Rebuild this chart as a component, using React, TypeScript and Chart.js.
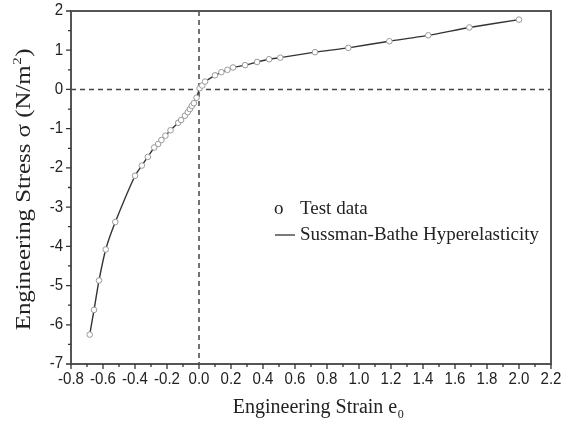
import React, { useEffect, useRef } from "react";
import { Chart, registerables } from "chart.js";

Chart.register(...registerables);

const STRAIN = [
  -0.683, -0.656, -0.625, -0.583, -0.523, -0.4, -0.357, -0.32, -0.28, -0.255,
  -0.235, -0.21, -0.178, -0.13, -0.112, -0.088, -0.07, -0.057, -0.045, -0.032,
  -0.015, 0.004, 0.02, 0.038, 0.1, 0.14, 0.178, 0.213, 0.288, 0.363, 0.438,
  0.508, 0.725, 0.933, 1.19, 1.433, 1.69, 2.0,
];
const STRESS = [
  -6.25, -5.62, -4.87, -4.08, -3.38, -2.2, -1.94, -1.72, -1.48, -1.39,
  -1.29, -1.18, -1.04, -0.85, -0.78, -0.67, -0.58, -0.5, -0.42, -0.35,
  -0.21, 0.03, 0.1, 0.2, 0.36, 0.44, 0.5, 0.56, 0.62, 0.7, 0.77,
  0.81, 0.95, 1.06, 1.23, 1.38, 1.58, 1.78,
];
const X_TICKS = [-0.8, -0.6, -0.4, -0.2, 0, 0.2, 0.4, 0.6, 0.8, 1.0, 1.2, 1.4, 1.6, 1.8, 2.0, 2.2];
const Y_TICKS = [-7, -6, -5, -4, -3, -2, -1, 0, 1, 2];
const SERIES_POINTS = "Test data";
const SERIES_LINE = "Sussman-Bathe Hyperelasticity";
const X_TITLE = "Engineering Strain e";
const X_TITLE_SUB = "0";
const Y_TITLE = "Engineering Stress σ (N/m";
const Y_TITLE_SUP = "2";
const Y_TITLE_END = ")";

const SERIF = '"Liberation Serif", "Times New Roman", serif';
const SANS = '"Liberation Sans", Arial, sans-serif';

const decor = {
  id: "decor",
  beforeDatasetsDraw(chart: any) {
    const { ctx, chartArea: a, scales } = chart;
    const x0 = scales.x.getPixelForValue(0);
    const y0 = scales.y.getPixelForValue(0);
    ctx.save();
    ctx.strokeStyle = "#444";
    ctx.lineWidth = 1.5;
    ctx.setLineDash([5, 4]);
    ctx.beginPath();
    ctx.moveTo(x0, a.top);
    ctx.lineTo(x0, a.bottom);
    ctx.moveTo(a.left, y0);
    ctx.lineTo(a.right, y0);
    ctx.stroke();
    ctx.restore();
  },
  afterDraw(chart: any) {
    const { ctx, chartArea: a, scales } = chart;
    const sx = scales.x;
    const sy = scales.y;
    ctx.save();
    // frame
    ctx.strokeStyle = "#555";
    ctx.lineWidth = 2;
    ctx.strokeRect(a.left, a.top, a.right - a.left, a.bottom - a.top);
    // ticks
    ctx.strokeStyle = "#333";
    ctx.lineWidth = 1.3;
    ctx.beginPath();
    X_TICKS.forEach((v, i) => {
      const px = sx.getPixelForValue(v);
      ctx.moveTo(px, a.bottom);
      ctx.lineTo(px, a.bottom + 5);
      if (i < X_TICKS.length - 1) {
        const pm = sx.getPixelForValue((v + X_TICKS[i + 1]) / 2);
        ctx.moveTo(pm, a.bottom);
        ctx.lineTo(pm, a.bottom + 3);
      }
    });
    Y_TICKS.forEach((v, i) => {
      const py = sy.getPixelForValue(v);
      ctx.moveTo(a.left, py);
      ctx.lineTo(a.left - 5, py);
      if (i < Y_TICKS.length - 1) {
        const pm = sy.getPixelForValue((v + Y_TICKS[i + 1]) / 2);
        ctx.moveTo(a.left, pm);
        ctx.lineTo(a.left - 3, pm);
      }
    });
    ctx.stroke();
    // tick labels (slightly condensed)
    ctx.fillStyle = "#222";
    ctx.font = `16px ${SANS}`;
    ctx.textAlign = "center";
    ctx.textBaseline = "top";
    X_TICKS.forEach((v) => {
      const px = sx.getPixelForValue(v);
      ctx.save();
      ctx.translate(px, a.bottom + 8);
      ctx.scale(0.94, 1);
      ctx.fillText(v.toFixed(1), 0, 0);
      ctx.restore();
    });
    ctx.textAlign = "right";
    ctx.textBaseline = "middle";
    Y_TICKS.forEach((v) => {
      ctx.save();
      ctx.translate(a.left - 8, sy.getPixelForValue(v));
      ctx.scale(0.94, 1);
      ctx.fillText(String(v), 0, 0);
      ctx.restore();
    });
    // x title
    ctx.fillStyle = "#222";
    ctx.textBaseline = "alphabetic";
    ctx.textAlign = "left";
    ctx.font = `20px ${SERIF}`;
    const w1 = ctx.measureText(X_TITLE).width;
    ctx.font = `12px ${SERIF}`;
    const w2 = ctx.measureText(X_TITLE_SUB).width;
    const cx = (a.left + a.right) / 2 + 7;
    const sxp = cx - (w1 + w2) / 2;
    ctx.font = `20px ${SERIF}`;
    ctx.fillText(X_TITLE, sxp, 413);
    ctx.font = `12px ${SERIF}`;
    ctx.fillText(X_TITLE_SUB, sxp + w1 + 0.5, 418);
    // y title (stretched along its length)
    ctx.save();
    ctx.translate(30, 190);
    ctx.rotate(-Math.PI / 2);
    ctx.scale(1.24, 1);
    ctx.font = `20px ${SERIF}`;
    const t1 = ctx.measureText(Y_TITLE).width;
    const t3 = ctx.measureText(Y_TITLE_END).width;
    ctx.font = `12px ${SERIF}`;
    const t2 = ctx.measureText(Y_TITLE_SUP).width;
    const yx = -(t1 + t2 + t3) / 2;
    ctx.font = `20px ${SERIF}`;
    ctx.fillText(Y_TITLE, yx, 0);
    ctx.font = `12px ${SERIF}`;
    ctx.fillText(Y_TITLE_SUP, yx + t1 + 0.5, -9);
    ctx.font = `20px ${SERIF}`;
    ctx.fillText(Y_TITLE_END, yx + t1 + t2 + 1, 0);
    ctx.restore();
    // legend
    ctx.font = `19px ${SERIF}`;
    ctx.textBaseline = "middle";
    ctx.fillText("o", 274, 209);
    ctx.fillText(SERIES_POINTS, 300, 209);
    ctx.strokeStyle = "#333";
    ctx.lineWidth = 1.3;
    ctx.beginPath();
    ctx.moveTo(275, 235);
    ctx.lineTo(295, 235);
    ctx.stroke();
    ctx.fillText(SERIES_LINE, 300, 235);
    ctx.restore();
  },
};

export default function App() {
  const ref = useRef<HTMLCanvasElement | null>(null);
  useEffect(() => {
    if (!ref.current) return;
    const pts = STRAIN.map((x, i) => ({ x, y: STRESS[i] }));
    const chart = new Chart(ref.current, {
      type: "scatter",
      data: {
        datasets: [
          {
            label: SERIES_POINTS,
            data: pts,
            showLine: false,
            pointRadius: 2.8,
            pointBorderWidth: 1,
            pointBorderColor: "#999",
            pointBackgroundColor: "#fff",
            order: 0,
          },
          {
            label: SERIES_LINE,
            data: pts,
            showLine: true,
            borderColor: "#333",
            borderWidth: 1.4,
            pointRadius: 0,
            tension: 0.2,
            order: 1,
          },
        ],
      },
      options: {
        animation: false,
        responsive: false,
        maintainAspectRatio: false,
        layout: { padding: { left: 71, top: 11, right: 11, bottom: 62 } },
        plugins: { legend: { display: false }, tooltip: { enabled: false }, title: { display: false } },
        scales: {
          x: { type: "linear", min: -0.8, max: 2.2, display: false },
          y: { type: "linear", min: -7, max: 2, display: false },
        },
      },
      plugins: [decor],
    });
    return () => chart.destroy();
  }, []);
  return (
    <div style={{ position: "fixed", left: 0, top: 0, width: 562, height: 426, background: "#fff" }}>
      <canvas ref={ref} width={562} height={426} />
    </div>
  );
}
